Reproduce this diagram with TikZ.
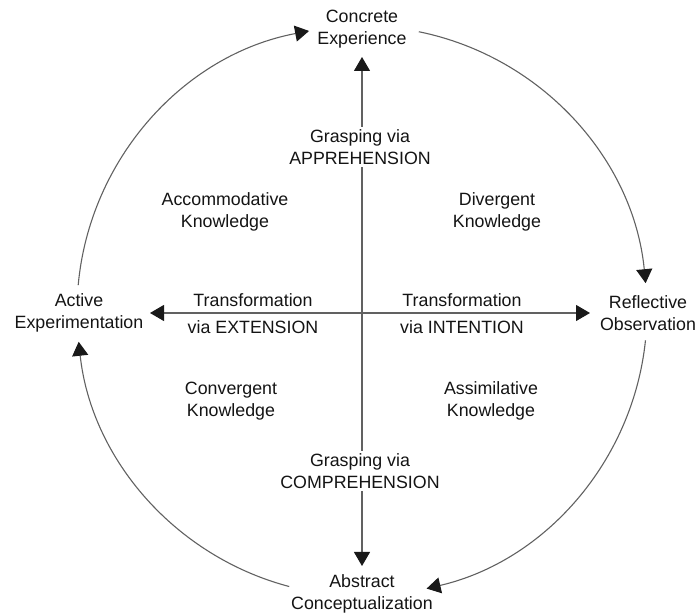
\documentclass[tikz,border=0pt]{standalone}
\usepackage{fontspec}
\setmainfont{Liberation Sans}
\usetikzlibrary{arrows.meta,calc}
\begin{document}
\begin{tikzpicture}[x=1pt,y=1pt,
  lbl/.style={align=center,text=black!92,inner sep=1pt,font=\fontsize{17.8}{21.5}\selectfont},
  wlbl/.style={lbl,fill=white,inner sep=3pt},
  ln/.style={draw=black!62,line width=1.1pt},
  tip/.tip={Triangle[length=14pt,width=16pt,color=black!90]},
  arr/.style={ln,-tip},
  darr/.style={ln,tip-tip}]
\useasboundingbox (0,0) rectangle (697,613);
\coordinate (O) at (362,302);
% stage nodes
\node[lbl] (ce) at (362,584) {Concrete\\Experience};
\node[lbl] (ro) at (648,300) {Reflective\\Observation};
\node[lbl] (ae) at (79,300) {Active\\Experimentation};
\node[lbl] (ac) at (362,19) {Abstract\\Conceptualization};
% axes end points
\coordinate (top) at (362,556);
\coordinate (bot) at (362,47);
\coordinate (lft) at (150,300);
\coordinate (rgt) at (590,300);
\draw[darr] (bot) -- (top);
\draw[darr] (lft) -- (rgt);
% grasping labels
\node[wlbl] (app) at (360,466) {Grasping via\\APPREHENSION};
\node[wlbl] (com) at (360,142) {Grasping via\\COMPREHENSION};
% transformation labels
\node[lbl] (t1) at (253,313) {Transformation};
\node[lbl] (t2) at (253,286) {via EXTENSION};
\node[lbl] (t3) at (462,313) {Transformation};
\node[lbl] (t4) at (462,286) {via INTENTION};
% knowledge labels
\node[lbl] (acc) at (225,401) {Accommodative\\Knowledge};
\node[lbl] (div) at (497,401) {Divergent\\Knowledge};
\node[lbl] (con) at (231,212) {Convergent\\Knowledge};
\node[lbl] (ass) at (491,212) {Assimilative\\Knowledge};
% cycle arcs
\coordinate (a1) at ($(O)+(78.5:285)$);
\coordinate (a2) at ($(O)+(-5.9:285)$);
\coordinate (a3) at ($(O)+(255.2:285)$);
\coordinate (a4) at ($(O)+(174.8:285)$);
\draw[arr] (a1) arc[start angle=78.5,end angle=5.6,radius=285];
\draw[arr] (a2) arc[start angle=-5.9,end angle=-76.9,radius=285];
\draw[arr] (a3) arc[start angle=255.2,end angle=186.2,radius=285];
\draw[arr] (a4) arc[start angle=174.8,end angle=100.7,radius=285];
\end{tikzpicture}
\end{document}
